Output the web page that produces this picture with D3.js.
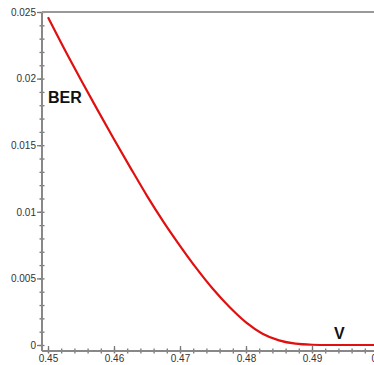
<!DOCTYPE html>
<html>
<head>
<meta charset="utf-8">
<script src="https://cdn.jsdelivr.net/npm/d3@7"></script>
<style>
  body { margin: 0; background: #fff; }
  .tick text { font-family: Arial, "Liberation Sans", sans-serif; font-size: 10px; fill: #333; }
</style>
</head>
<body>
<div id="chart"></div>
<script>
// data
const voltage = [0.45, 0.4525, 0.455, 0.4575, 0.46, 0.4625, 0.465, 0.4675, 0.47, 0.4725,
                 0.475, 0.4775, 0.48, 0.4825, 0.485, 0.4875, 0.49, 0.4925, 0.495, 0.4975, 0.5]
const ber = [0.0246, 0.0222, 0.0199, 0.01765, 0.01545, 0.0133, 0.0112, 0.00925, 0.00745, 0.00575,
             0.0042, 0.00285, 0.0017, 0.00085, 0.00035, 0.0001, 0.00002, 0, 0, 0, 0]
const xTicks = [0.45, 0.46, 0.47, 0.48, 0.49, 0.5]
const yTicks = [0, 0.005, 0.01, 0.015, 0.02, 0.025]

const W = 374, H = 365
const axisX = 42, axisY = 351, topY = 12

let svg = d3.select("#chart")
    .append("svg")
    .attr("width", W)
    .attr("height", H)

let x = d3.scaleLinear().domain([0.45, 0.5]).range([48, 378]),
    y = d3.scaleLinear().domain([0, 0.025]).range([345, topY]);

const fmt = d => String(+d.toFixed(3))

// minor ticks
svg.append("g")
    .attr("transform", "translate(" + (axisX + 2.5) + ",0)")
    .call(d3.axisLeft(y).tickValues(d3.range(0, 0.0251, 0.001)).tickSize(5).tickFormat(""))
    .call(g => g.select(".domain").remove())
    .selectAll("line").attr("stroke", "#777").attr("stroke-width", 1.3)

svg.append("g")
    .attr("transform", "translate(0," + (axisY - 2.5) + ")")
    .call(d3.axisBottom(x).tickValues(d3.range(0.45, 0.5001, 0.002)).tickSize(5).tickFormat(""))
    .call(g => g.select(".domain").remove())
    .selectAll("line").attr("stroke", "#777").attr("stroke-width", 1.3)

// major ticks + labels
svg.append("g")
    .attr("transform", "translate(" + axisX + ",0)")
    .call(d3.axisLeft(y).tickValues(yTicks).tickSize(5).tickPadding(1).tickFormat(fmt))
    .call(g => g.select(".domain").remove())
    .selectAll("line").attr("stroke", "#777").attr("stroke-width", 1.3)

let xa = svg.append("g")
    .attr("transform", "translate(0," + (axisY - 5) + ")")
    .call(d3.axisBottom(x).tickValues(xTicks).tickSize(7).tickPadding(2).tickFormat(fmt))
xa.select(".domain").remove()
xa.selectAll("line").attr("stroke", "#777").attr("stroke-width", 1.3)

// axis lines and top frame
svg.append("line").attr("x1", axisX).attr("x2", axisX).attr("y1", topY).attr("y2", axisY)
    .attr("stroke", "#888").attr("stroke-width", 2)
svg.append("line").attr("x1", axisX).attr("x2", W).attr("y1", axisY).attr("y2", axisY)
    .attr("stroke", "#888").attr("stroke-width", 2)
svg.append("line").attr("x1", axisX).attr("x2", W).attr("y1", topY).attr("y2", topY)
    .attr("stroke", "#999").attr("stroke-width", 2)

// curve
let line = d3.line()
    .x((d, i) => x(voltage[i]))
    .y(d => y(d))
    .curve(d3.curveMonotoneX)

svg.append("path")
    .datum(ber)
    .attr("d", line)
    .attr("fill", "none")
    .attr("stroke", "#e01010")
    .attr("stroke-width", 2.2)

// axis names
svg.append("text").text("BER")
    .attr("x", 48).attr("y", 103)
    .attr("font-family", "Arial, 'Liberation Sans', sans-serif")
    .attr("font-size", "16px").attr("font-weight", "bold").attr("fill", "#111")

svg.append("text").text("V")
    .attr("x", 334).attr("y", 339)
    .attr("font-family", "Arial, 'Liberation Sans', sans-serif")
    .attr("font-size", "16px").attr("font-weight", "bold").attr("fill", "#111")
</script>
</body>
</html>
